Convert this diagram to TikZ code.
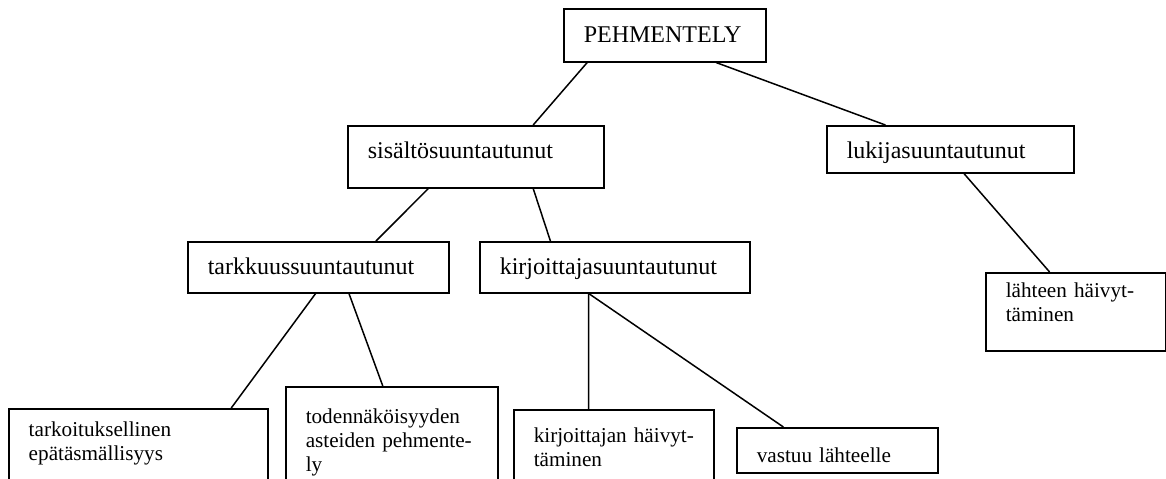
\documentclass[tikz,border=0pt]{standalone}
\usepackage{fontspec}
\setmainfont{Liberation Serif}
\usetikzlibrary{calc}

\tikzset{
  term/.style={
    rectangle, draw=black, line width=0.75pt,
    anchor=north west, align=left,
    inner xsep=10pt, inner ysep=0pt,
    font=\fontsize{12}{14}\selectfont
  },
  leaf/.style={
    term, font=\fontsize{10.6}{12}\selectfont
  },
  link/.style={line width=0.75pt, draw=black}
}

\begin{document}
\begin{tikzpicture}[x=0.5pt, y=-0.5pt]

\useasboundingbox (0,0) rectangle (1166,478);
\clip (0,0) rectangle (1166,478);

% Top levels
\node[term, text width=81pt, text height=17pt, text depth=9.5pt] (pehm) at (563,8) {PEHMENTELY};
\node[term, text width=108pt, text height=16.5pt, text depth=14.5pt] (sis) at (347,125) {sisältösuuntautunut};
\node[term, text width=103.5pt, text height=16.5pt, text depth=7pt] (luk) at (826,125) {lukijasuuntautunut};
\node[term, text width=110.5pt, text height=16.5pt, text depth=9pt] (tark) at (187,241) {tarkkuussuuntautunut};
\node[term, text width=115pt, text height=16.5pt, text depth=9pt] (kirj) at (479,241) {kirjoittajasuuntautunut};

% Leaves
\node[leaf, text width=70pt, text height=12.5pt, text depth=26.5pt] (lah) at (985,272) {\mbox{lähteen häivyt-}\\täminen};
\node[leaf, text width=109.5pt, text height=14pt, text depth=50pt] (epat) at (8,408) {tarkoituksellinen\\epätäsmällisyys};
\node[leaf, text width=86pt, text height=18.5pt, text depth=60pt] (tod) at (285,386) {todennäköisyyden\\\mbox{asteiden pehmente-}\\ly};
\node[leaf, text width=80pt, text height=16.5pt, text depth=50pt] (kirjh) at (513,409) {\mbox{kirjoittajan häivyt-}\\täminen};
\node[leaf, text width=80.5pt, text height=17.5pt, text depth=5pt] (vast) at (736,427) {\mbox{vastuu lähteelle}};

% Connectors
\draw[link] ($(pehm.south west)!0.119!(pehm.south east)$) -- ($(sis.north west)!0.723!(sis.north east)$);
\draw[link] ($(pehm.south west)!0.752!(pehm.south east)$) -- ($(luk.north west)!0.239!(luk.north east)$);
\draw[link] ($(sis.south west)!0.316!(sis.south east)$) -- ($(tark.north west)!0.72!(tark.north east)$);
\draw[link] ($(sis.south west)!0.723!(sis.south east)$) -- ($(kirj.north west)!0.263!(kirj.north east)$);
\draw[link] ($(luk.south west)!0.555!(luk.south east)$) -- ($(lah.north west)!0.356!(lah.north east)$);
\draw[link] ($(tark.south west)!0.49!(tark.south east)$) -- ($(epat.north west)!0.857!(epat.north east)$);
\draw[link] ($(tark.south west)!0.617!(tark.south east)$) -- ($(tod.north west)!0.458!(tod.north east)$);
\draw[link] ($(kirj.south west)!0.404!(kirj.south east)$) -- ($(kirjh.north west)!0.375!(kirjh.north east)$);
\draw[link] ($(kirj.south west)!0.404!(kirj.south east)$) -- ($(vast.north west)!0.234!(vast.north east)$);

\end{tikzpicture}
\end{document}
